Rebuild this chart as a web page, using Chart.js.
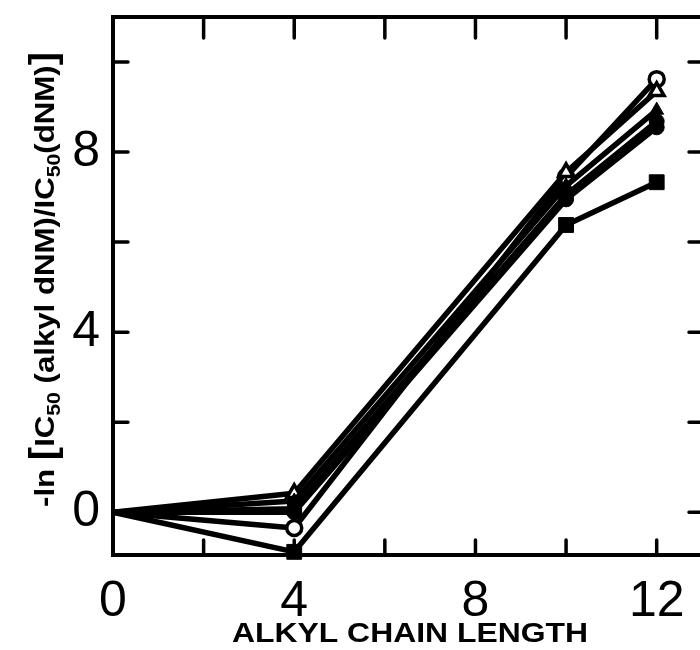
<!DOCTYPE html>
<html>
<head>
<meta charset="utf-8">
<script src="https://cdn.jsdelivr.net/npm/chart.js@4/dist/chart.umd.min.js"></script>
<style>
  html, body { margin: 0; padding: 0; background: #fff; overflow: hidden; }
  canvas { display: block; }
</style>
</head>
<body>
<canvas id="chart" width="720" height="650"></canvas>
<script>
// Alkyl chain length of each derivative (0 = parent dNM)
const chainLength = [0, 4, 10, 12];

// -ln[IC50(alkyl dNM)/IC50(dNM)] for each enzyme / assay series
const openCircle     = [0, -0.35, 7.45, 9.62];
const openTriangle   = [0,  0.42, 7.55, 9.35];
const filledTriangle = [0,  0.25, 7.25, 8.93];
const filledCircleA  = [0,  0.08, 7.05, 8.68];
const filledCircleB  = [0,  0.00, 6.95, 8.55];
const filledSquare   = [0, -0.88, 6.38, 7.33];

// Axis ticks and labels
const xTickMarks  = [2, 4, 6, 8, 10, 12];
const yTickMarks  = [0, 2, 4, 6, 8, 10];
const xTickLabels = [0, 4, 8, 12];
const yTickLabels = [0, 4, 8];
const xAxisTitle  = 'ALKYL CHAIN LENGTH';

const INK = '#000';
const toPoints = ys => chainLength.map((x, i) => ({ x, y: ys[i] }));

function series(values, pointStyle, open, radius) {
  return {
    data: toPoints(values),
    borderColor: INK,
    borderWidth: 5.5,
    borderJoinStyle: 'round',
    pointStyle,
    // the shared origin point carries no marker
    pointRadius: chainLength.map(x => (x === 0 ? 0 : radius)),
    pointBackgroundColor: open ? '#fff' : INK,
    pointBorderColor: INK,
    pointBorderWidth: open ? 3.5 : 1,
    tension: 0,
    fill: false,
    clip: false
  };
}

// Frame with inward tick marks on all four sides, plus the axis titles
const framePlugin = {
  id: 'frame',
  beforeDatasetsDraw(chart) {
    const { ctx, chartArea: a, scales: { x, y } } = chart;
    ctx.save();
    ctx.strokeStyle = INK;
    ctx.lineCap = 'round';
    ctx.lineWidth = 4;
    ctx.strokeRect(a.left, a.top, a.right - a.left, a.bottom - a.top);
    ctx.lineWidth = 3.5;
    ctx.beginPath();
    xTickMarks.forEach(v => {
      const px = x.getPixelForValue(v);
      ctx.moveTo(px, a.bottom); ctx.lineTo(px, a.bottom - 15);
      ctx.moveTo(px, a.top);    ctx.lineTo(px, a.top + 21);
    });
    yTickMarks.forEach(v => {
      const py = y.getPixelForValue(v);
      ctx.moveTo(a.left, py);  ctx.lineTo(a.left + 15, py);
      ctx.moveTo(a.right, py); ctx.lineTo(a.right - 13, py);
    });
    ctx.stroke();
    ctx.restore();
  },
  afterDraw(chart) {
    const { ctx } = chart;
    ctx.save();
    ctx.fillStyle = INK;

    // x-axis title
    ctx.font = 'bold 28px "Liberation Sans"';
    const tw = ctx.measureText(xAxisTitle).width;
    ctx.translate(410, 642);
    ctx.scale(356 / tw, 1);
    ctx.textAlign = 'center';
    ctx.textBaseline = 'alphabetic';
    ctx.fillText(xAxisTitle, 0, 0);
    ctx.restore();

    // y-axis title with subscripts and brackets
    const main = 'bold 28px "Liberation Sans"';
    const sub = 'bold 19px "Liberation Sans"';
    const big = 'bold 36px "Liberation Sans"';
    const parts = [
      { t: '-ln ', f: main, dy: 0 },
      { t: '[', f: big, dy: 1 },
      { t: 'IC', f: main, dy: 0 },
      { t: '50', f: sub, dy: 6 },
      { t: ' (alkyl dNM)/IC', f: main, dy: 0 },
      { t: '50', f: sub, dy: 6 },
      { t: '(dNM)', f: main, dy: 0 },
      { t: ']', f: big, dy: 1 }
    ];
    ctx.save();
    let total = 0;
    parts.forEach(p => { ctx.font = p.f; p.w = ctx.measureText(p.t).width; total += p.w; });
    ctx.translate(54, 507);
    ctx.rotate(-Math.PI / 2);
    ctx.scale(455 / total, 1);
    ctx.fillStyle = INK;
    ctx.textBaseline = 'alphabetic';
    let pos = 0;
    parts.forEach(p => { ctx.font = p.f; ctx.fillText(p.t, pos, p.dy); pos += p.w; });
    ctx.restore();
  }
};

new Chart(document.getElementById('chart'), {
  type: 'line',
  data: {
    datasets: [
      series(filledSquare,   'rect',     false, 10.5),
      series(filledCircleB,  'circle',   false, 7.5),
      series(filledCircleA,  'circle',   false, 7.5),
      series(filledTriangle, 'triangle', false, 8),
      series(openTriangle,   'triangle', true,  8.5),
      series(openCircle,     'circle',   true,  7.5)
    ]
  },
  options: {
    responsive: false,
    animation: false,
    devicePixelRatio: 1,
    layout: { padding: { top: 17, right: 18, left: 0, bottom: 0 } },
    plugins: { legend: { display: false }, tooltip: { enabled: false } },
    scales: {
      x: {
        type: 'linear',
        min: 0, max: 13,
        grid: { display: false, drawTicks: false },
        border: { display: false },
        afterBuildTicks: s => { s.ticks = xTickLabels.map(v => ({ value: v })); },
        afterFit: s => { s.height = 95; s.paddingLeft = 0; s.paddingRight = 0; },
        ticks: {
          color: INK,
          padding: 17,
          maxRotation: 0,
          autoSkip: false,
          font: { family: 'Liberation Sans', size: 50 }
        }
      },
      y: {
        type: 'linear',
        min: -0.95, max: 11,
        grid: { display: false, drawTicks: false },
        border: { display: false },
        afterBuildTicks: s => { s.ticks = yTickLabels.map(v => ({ value: v })); },
        afterFit: s => { s.width = 113; s.paddingTop = 0; s.paddingBottom = 0; },
        ticks: {
          color: INK,
          padding: 13,
          autoSkip: false,
          font: { family: 'Liberation Sans', size: 50 }
        }
      }
    }
  },
  plugins: [framePlugin]
});
</script>
</body>
</html>
